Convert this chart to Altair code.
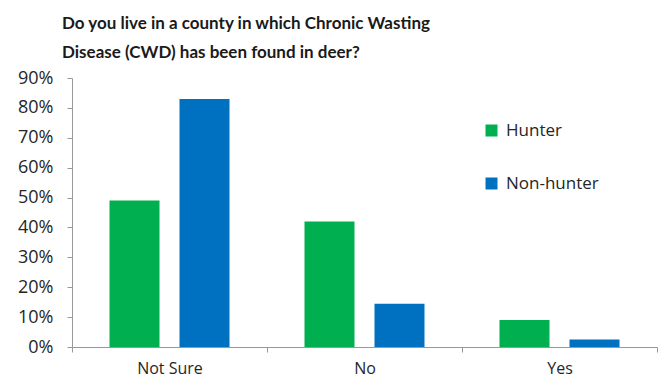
import altair as alt
import pandas as pd

categories = ["Not Sure", "No", "Yes"]
groups = ["Hunter", "Non-hunter"]
hunter = [0.49, 0.42, 0.09]
non_hunter = [0.83, 0.145, 0.025]
colors = ["#00B050", "#0070C0"]
y_ticks = [i / 10 for i in range(10)]

rows = []
for c, h, n in zip(categories, hunter, non_hunter):
    rows.append({"answer": c, "group": "Hunter", "value": h})
    rows.append({"answer": c, "group": "Non-hunter", "value": n})
df = pd.DataFrame(rows)

FONT = "Open Sans"

chart = (
    alt.Chart(df)
    .mark_bar()
    .encode(
        x=alt.X(
            "answer:N",
            sort=categories,
            title=None,
            scale=alt.Scale(paddingInner=0, paddingOuter=0),
            axis=alt.Axis(
                labelAngle=0,
                tickBand="extent",
                domainColor="#999999",
                tickColor="#999999",
                tickSize=5,
                labelPadding=8,
                labelFont=FONT,
                labelFontSize=16,
                labelColor="#262626",
            ),
        ),
        xOffset=alt.XOffset(
            "group:N",
            sort=groups,
            scale=alt.Scale(paddingInner=0.2857, paddingOuter=0.5357),
        ),
        y=alt.Y(
            "value:Q",
            title=None,
            scale=alt.Scale(domain=[0, 0.9], nice=False),
            axis=alt.Axis(
                values=y_ticks,
                format=".0%",
                grid=False,
                domainColor="#999999",
                tickColor="#999999",
                tickSize=5,
                labelPadding=14,
                labelFont=FONT,
                labelFontSize=18,
                labelColor="#262626",
            ),
        ),
        color=alt.Color(
            "group:N",
            sort=groups,
            scale=alt.Scale(domain=groups, range=colors),
            legend=alt.Legend(
                title=None,
                orient="none",
                legendX=411,
                legendY=44,
                symbolType="square",
                symbolSize=144,
                symbolStrokeWidth=0,
                labelFont=FONT,
                labelFontSize=17,
                labelColor="#262626",
                labelOffset=6,
                rowPadding=35,
            ),
        ),
    )
    .properties(
        width=585,
        height=269,
        autosize=alt.AutoSizeParams(type="none"),
        padding={"left": 72, "top": 78, "right": 7, "bottom": 32},
        title=alt.TitleParams(
            text=["Do you live in a county in which Chronic Wasting", "Disease (CWD) has been found in deer?"],
            anchor="start",
            frame="group",
            dx=-10,
            offset=7,
            font="Lato",
            fontSize=17,
            fontWeight="bold",
            color="#1a1a1a",
            lineHeight=29,
        ),
    )
    .configure_view(stroke=None)
)

chart.save("out.html", embed_options={"renderer": "svg", "actions": False})
